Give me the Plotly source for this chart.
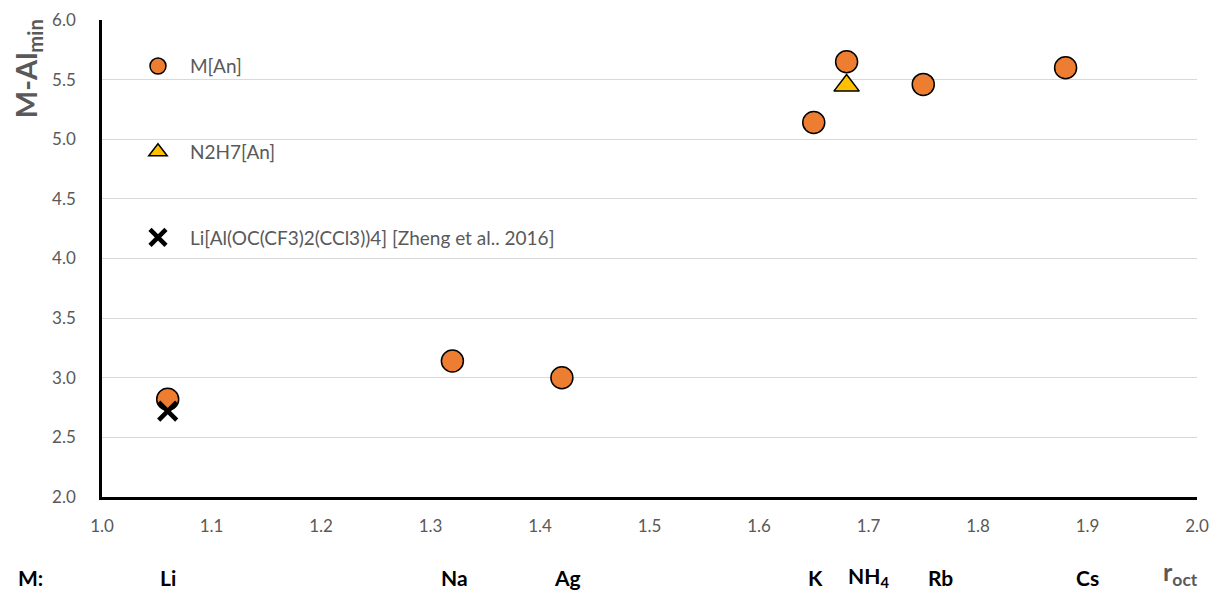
import plotly.graph_objects as go

# Octahedral radius (r_oct) and shortest M–Al distance for each cation
m_labels = ["Li", "Na", "Ag", "K", "NH4", "Rb", "Cs"]
m_r_oct = [1.06, 1.32, 1.42, 1.65, 1.68, 1.75, 1.88]
m_al_min = [2.82, 3.14, 3.00, 5.14, 5.65, 5.46, 5.60]

n2h7_r_oct = [1.68]
n2h7_al_min = [5.45]

lit_r_oct = [1.06]
lit_al_min = [2.72]

# Cation names written under the x axis
cation_names = ["Li", "Na", "Ag", "K", "NH<sub>4</sub>", "Rb", "Cs"]
cation_label_x = [1.06, 1.322, 1.425, 1.652, 1.70, 1.766, 1.90]

FONT = "Lato, 'Open Sans', sans-serif"
GRAY = "#595959"

fig = go.Figure()
fig.add_trace(go.Scatter(
    x=m_r_oct, y=m_al_min, mode="markers", name="M[An]", legendgroup="a",
    marker=dict(symbol="circle", size=22, color="#ED7D31",
                line=dict(color="black", width=1.5)),
))
fig.add_trace(go.Scatter(
    x=n2h7_r_oct, y=n2h7_al_min, mode="markers", name="N2H7[An]", legendgroup="b",
    marker=dict(symbol="triangle-up", size=22, color="#FFC000",
                line=dict(color="black", width=1.5)),
))
fig.add_trace(go.Scatter(
    x=lit_r_oct, y=lit_al_min, mode="markers",
    name="Li[Al(OC(CF3)2(CCl3))4] [Zheng et al.. 2016]", legendgroup="c",
    marker=dict(symbol="x-thin", size=18, color="black",
                line=dict(color="black", width=4.5)),
))

LABEL_Y = -0.168
annotations = [
    dict(x=xv, y=LABEL_Y, xref="x", yref="paper", text=t, showarrow=False,
         font=dict(family=FONT, size=21, color="black", weight="bold"),
         xanchor="center", yanchor="middle")
    for xv, t in zip(cation_label_x, cation_names)
]
annotations.append(dict(x=-0.065, y=LABEL_Y, xref="paper", yref="paper", text="M:",
                        showarrow=False, xanchor="center", yanchor="middle",
                        font=dict(family=FONT, size=21, color="black", weight="bold")))
annotations.append(dict(x=0.985, y=-0.16, xref="paper", yref="paper",
                        text="r<sub>oct</sub>", showarrow=False,
                        xanchor="center", yanchor="middle",
                        font=dict(family=FONT, size=25, color=GRAY, weight="bold")))
# y-axis title set at the top of the axis
annotations.append(dict(x=-0.068, y=0.898, xref="paper", yref="paper",
                        text="M-Al<sub>min</sub>", showarrow=False, textangle=-90,
                        xanchor="center", yanchor="middle",
                        font=dict(family=FONT, size=29, color=GRAY, weight="bold")))

fig.update_layout(
    width=1213, height=591,
    margin=dict(l=102, r=16, t=20, b=94, autoexpand=False),
    paper_bgcolor="white", plot_bgcolor="white",
    font=dict(family=FONT, color=GRAY),
    showlegend=True,
    legend=dict(x=0.0219, y=0.943, xanchor="left", yanchor="top",
                bgcolor="rgba(0,0,0,0)", tracegroupgap=58,
                font=dict(size=19, color=GRAY, family=FONT),
                itemsizing="trace", itemwidth=54),
    xaxis=dict(range=[1.0, 2.0], dtick=0.1, tickformat=".1f",
               showgrid=False, zeroline=False, automargin=False,
               showline=True, linecolor="black", linewidth=2.5,
               tickfont=dict(size=17, color=GRAY), ticks="",
               ticklabelstandoff=12),
    yaxis=dict(range=[2.0, 6.0], dtick=0.5, tickformat=".1f",
               showgrid=True, gridcolor="#D9D9D9", gridwidth=1,
               zeroline=False, showline=True, linecolor="black", linewidth=2.5,
               tickfont=dict(size=17, color=GRAY), ticks="", automargin=False,
               ticklabelstandoff=20),
    annotations=annotations,
)

fig.write_html("out.html")
